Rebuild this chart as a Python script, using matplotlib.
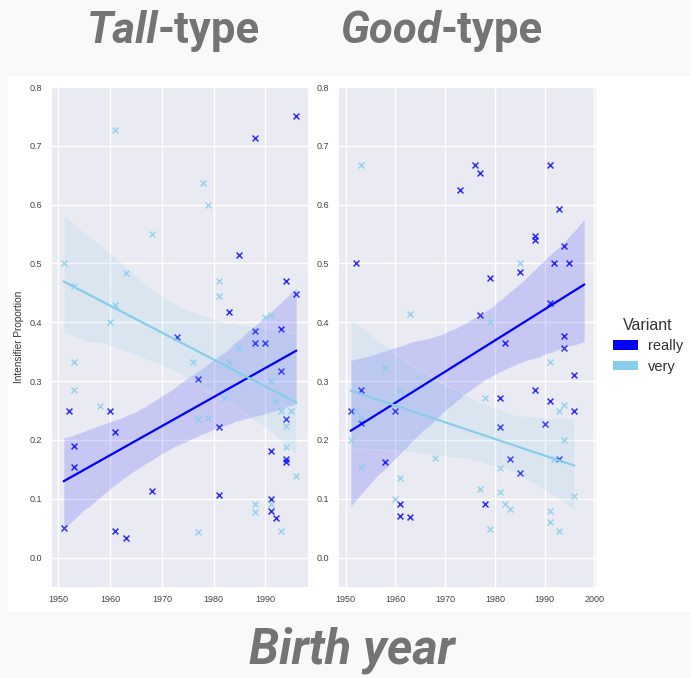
import numpy as np
import pandas as pd
import matplotlib
matplotlib.use("Agg")
import matplotlib.pyplot as plt
from matplotlib.patches import Patch, Rectangle
import seaborn as sns

# Tall-type panel (last "very" point lies above the visible y range)
tall_really_year = [1996, 1988, 1985, 1994, 1996, 1983, 1973, 1988, 1993, 1988, 1990,
                    1977, 1993, 1952, 1960, 1961, 1953, 1953, 1981, 1994, 1994, 1994,
                    1991, 1968, 1981, 1991, 1991, 1992, 1951, 1961, 1963]
tall_really_prop = [0.75, 0.714, 0.515, 0.471, 0.448, 0.417, 0.375, 0.385, 0.389, 0.364, 0.364,
                    0.303, 0.318, 0.25, 0.25, 0.214, 0.19, 0.154, 0.222, 0.235, 0.167, 0.162,
                    0.182, 0.113, 0.107, 0.1, 0.079, 0.067, 0.05, 0.045, 0.034]
tall_very_year = [1961, 1978, 1979, 1968, 1951, 1953, 1963, 1961, 1960, 1981, 1981, 1985,
                  1990, 1991, 1953, 1953, 1958, 1976, 1983, 1977, 1979, 1982, 1991, 1992,
                  1993, 1995, 1994, 1994, 1996, 1988, 1988, 1991, 1993, 1977, 1991]
tall_very_prop = [0.727, 0.636, 0.6, 0.55, 0.5, 0.462, 0.483, 0.429, 0.4, 0.47, 0.444, 0.357,
                  0.409, 0.412, 0.333, 0.285, 0.258, 0.333, 0.333, 0.235, 0.238, 0.272, 0.3, 0.266,
                  0.25, 0.25, 0.224, 0.188, 0.138, 0.091, 0.077, 0.091, 0.046, 0.043, 0.9]

# Good-type panel (last "really" point lies above the visible y range)
good_really_year = [1952, 1976, 1977, 1973, 1991, 1993, 1988, 1988, 1994, 1992, 1995, 1979,
                    1985, 1977, 1991, 1994, 1994, 1982, 1951, 1953, 1953, 1960, 1958, 1961,
                    1961, 1963, 1981, 1981, 1983, 1985, 1978, 1988, 1990, 1991, 1996, 1996,
                    1993, 1998]
good_really_prop = [0.5, 0.667, 0.653, 0.625, 0.667, 0.592, 0.547, 0.54, 0.529, 0.5, 0.5, 0.476,
                    0.485, 0.412, 0.432, 0.376, 0.356, 0.364, 0.25, 0.285, 0.229, 0.25, 0.162, 0.091,
                    0.071, 0.069, 0.272, 0.222, 0.167, 0.143, 0.091, 0.285, 0.227, 0.266, 0.25, 0.31,
                    0.167, 1.0]
good_very_year = [1953, 1963, 1985, 1979, 1991, 1951, 1952, 1953, 1953, 1958, 1961, 1960,
                  1961, 1968, 1978, 1977, 1979, 1981, 1981, 1982, 1983, 1991, 1991, 1993,
                  1992, 1994, 1994, 1996, 1993]
good_very_prop = [0.667, 0.414, 0.5, 0.4, 0.333, 0.2, 0.25, 0.238, 0.154, 0.323, 0.285, 0.1,
                  0.136, 0.169, 0.272, 0.117, 0.048, 0.152, 0.112, 0.091, 0.083, 0.079, 0.06, 0.046,
                  0.167, 0.259, 0.2, 0.104, 0.25]

variants = ["really", "very"]
palette = {"really": "blue", "very": "skyblue"}

sns.set_theme(style="darkgrid")
plt.rcParams["font.family"] = ["Liberation Sans", "DejaVu Sans"]

fig = plt.figure(figsize=(6.91, 6.78), dpi=100, facecolor="#f9f9f9")
fig.patches.append(Rectangle((8 / 691, 66 / 678), 683 / 691, 536 / 678,
                             transform=fig.transFigure, facecolor="white",
                             edgecolor="none", zorder=-10))

ax_left = fig.add_axes([52 / 691, 91 / 678, 256 / 691, 500 / 678])
ax_right = fig.add_axes([339 / 691, 91 / 678, 257 / 691, 500 / 678])

panels = [
    (ax_left, {"really": (tall_really_year, tall_really_prop),
               "very": (tall_very_year, tall_very_prop)}),
    (ax_right, {"really": (good_really_year, good_really_prop),
                "very": (good_very_year, good_very_prop)}),
]

for ax, data in panels:
    for v in variants:
        yrs, props = data[v]
        df = pd.DataFrame({"year": yrs, "prop": props})
        sns.regplot(data=df, x="year", y="prop", ax=ax, color=palette[v],
                    marker="x", seed=1, truncate=True,
                    scatter_kws={"s": 18, "linewidths": 1.1, "alpha": 0.8},
                    line_kws={"linewidth": 1.6})
    ax.set_ylim(-0.05, 0.8)
    ax.set_xlabel("")
    ax.set_ylabel("")
    ax.tick_params(axis="both", labelsize=6.5, length=0, colors="#444444")
    ax.tick_params(axis="y", pad=7)
    ax.tick_params(axis="x", pad=6)
    for sp in ax.spines.values():
        sp.set_visible(False)

ax_left.set_ylabel("Intensifier Proportion", fontsize=7.2, color="#333333", labelpad=4)
ax_right.set_xticks([1950, 1960, 1970, 1980, 1990, 2000])
ax_left.set_xticks([1950, 1960, 1970, 1980, 1990])

handles = [Patch(facecolor=palette[v], edgecolor="none") for v in variants]
leg = fig.legend(handles, variants, title="Variant", loc="center left",
                 bbox_to_anchor=(0.868, 0.49), frameon=False, fontsize=10.5,
                 title_fontsize=11.5, handlelength=1.7, handleheight=0.62,
                 handletextpad=0.7, labelspacing=0.45)
for t in leg.get_texts():
    t.set_color("#333333")
leg.get_title().set_color("#333333")

# big panel titles and shared x label
grey = "#747474"
tfont = dict(family="Roboto", fontsize=31.5, fontweight="bold", color=grey, va="baseline")
fig.text(158 / 691, 1 - 43 / 678, "Tall", ha="right", style="italic", **tfont)
fig.text(158 / 691, 1 - 43 / 678, "-type", ha="left", **tfont)
fig.text(441 / 691, 1 - 43 / 678, "Good", ha="right", style="italic", **tfont)
fig.text(441 / 691, 1 - 43 / 678, "-type", ha="left", **tfont)
fig.text(352 / 691, 14 / 678, "Birth year", ha="center", va="baseline", family="Roboto",
         fontsize=35, fontweight="bold", style="italic", color=grey)

fig.savefig("out.png", dpi=100, facecolor=fig.get_facecolor())
